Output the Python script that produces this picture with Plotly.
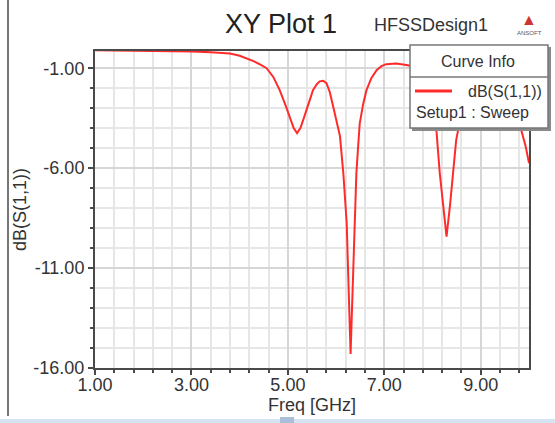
import plotly.graph_objects as go

# ---- data ----
freq_ghz = [1.00, 1.50, 2.00, 2.50, 3.00, 3.40, 3.80, 4.00, 4.15, 4.30, 4.45, 4.56,
            4.70, 4.83, 4.95, 5.04, 5.12, 5.19, 5.26, 5.33, 5.39, 5.46, 5.52, 5.60,
            5.66, 5.73, 5.80, 5.87, 5.94, 6.01, 6.08, 6.15, 6.22, 6.25, 6.28, 6.30,
            6.32, 6.35, 6.39, 6.42, 6.46, 6.49, 6.56, 6.63, 6.73, 6.84, 6.94, 7.04,
            7.25, 7.49, 7.70, 7.85, 7.97, 8.08, 8.15, 8.25, 8.29, 8.36, 8.43, 8.49,
            8.53, 8.62, 8.80, 9.05, 9.30, 9.55, 9.72, 9.84, 9.93, 10.00]
s11_db = [-0.10, -0.11, -0.12, -0.14, -0.16, -0.20, -0.27, -0.38, -0.50, -0.66, -0.85, -1.00,
          -1.45, -2.10, -2.85, -3.45, -4.00, -4.25, -4.00, -3.50, -3.10, -2.55, -2.10, -1.80,
          -1.66, -1.63, -1.75, -2.20, -2.93, -3.70, -4.40, -6.27, -8.77, -11.27, -13.77, -15.30,
          -13.77, -11.27, -8.77, -6.27, -4.80, -3.77, -2.80, -2.10, -1.50, -1.10, -0.90, -0.80,
          -0.77, -0.85, -1.00, -1.50, -2.50, -4.10, -6.27, -8.40, -9.43, -7.90, -6.27, -4.60,
          -4.10, -2.80, -1.80, -1.45, -1.60, -2.30, -3.20, -4.10, -4.90, -5.75]

x_tick_vals = [1, 3, 5, 7, 9]
x_tick_text = ["1.00", "3.00", "5.00", "7.00", "9.00"]
y_tick_vals = [-1, -6, -11, -16]
y_tick_text = ["-1.00", "-6.00", "-11.00", "-16.00"]

# ---- layout helpers (pixel -> paper) ----
L, R, T, B = 95, 529, 51, 368
def PX(p):
    return (p - L) / (R - L)
def PY(p):
    return (B - p) / (B - T)

FONT = "Liberation Sans, Arial, sans-serif"
TXT = "#333333"

fig = go.Figure(go.Scatter(x=freq_ghz, y=s11_db, mode="lines",
                           line=dict(color="#ff2b2b", width=2), showlegend=False,
                           name="dB(S(1,1))"))

axis_common = dict(
    showline=True, linecolor="#4a4a4a", linewidth=2, mirror=True,
    ticks="outside", ticklen=5, tickcolor="#4a4a4a", tickwidth=1.5,
    showgrid=True, gridcolor="#d6d6d6", gridwidth=2, zeroline=False,
    tickfont=dict(size=18, color=TXT, family=FONT), automargin=False,
)

fig.update_xaxes(range=[1, 10], tickmode="array", tickvals=x_tick_vals, ticktext=x_tick_text,
                 minor=dict(tick0=1, dtick=0.4, showgrid=True, gridcolor="#e6e6e6", gridwidth=1.5,
                            ticks="outside", ticklen=3, tickcolor="#4a4a4a"),
                 ticklabelstandoff=-6,
                 title=dict(text="Freq [GHz]", font=dict(size=18, color=TXT, family=FONT), standoff=0),
                 **axis_common)
fig.update_yaxes(range=[-16, -0.14], tickmode="array", tickvals=y_tick_vals, ticktext=y_tick_text,
                 minor=dict(tick0=-1, dtick=1, showgrid=True, gridcolor="#e6e6e6", gridwidth=1.5,
                            ticks="outside", ticklen=3, tickcolor="#4a4a4a"),
                 title=dict(text="dB(S(1,1))", font=dict(size=18, color=TXT, family=FONT), standoff=2),
                 **axis_common)

shapes = []
annotations = []

# legend box ("Curve Info") with shadow
shapes.append(dict(type="rect", xref="paper", yref="paper",
                   x0=PX(412), x1=PX(551), y0=PY(47), y1=PY(131),
                   fillcolor="#8a8a8a", line=dict(width=0), layer="above"))
shapes.append(dict(type="rect", xref="paper", yref="paper",
                   x0=PX(410), x1=PX(548), y0=PY(45), y1=PY(128),
                   fillcolor="white", line=dict(color="#777777", width=1.5), layer="above"))
shapes.append(dict(type="line", xref="paper", yref="paper",
                   x0=PX(410), x1=PX(548), y0=PY(77), y1=PY(77),
                   line=dict(color="#777777", width=1.5), layer="above"))
shapes.append(dict(type="line", xref="paper", yref="paper",
                   x0=PX(415), x1=PX(452), y0=PY(91), y1=PY(91),
                   line=dict(color="#ff2b2b", width=3), layer="above"))
annotations += [
    dict(text="Curve Info", x=PX(478), y=PY(61), xref="paper", yref="paper", showarrow=False,
         xanchor="center", yanchor="middle", font=dict(size=16, color=TXT, family=FONT)),
    dict(text="dB(S(1,1))", x=PX(544), y=PY(91), xref="paper", yref="paper", showarrow=False,
         xanchor="right", yanchor="middle", font=dict(size=16, color=TXT, family=FONT)),
    dict(text="Setup1 : Sweep", x=PX(414), y=PY(112), xref="paper", yref="paper", showarrow=False,
         xanchor="left", yanchor="middle", font=dict(size=16, color=TXT, family=FONT)),
    dict(text="HFSSDesign1", x=PX(431), y=PY(25), xref="paper", yref="paper", showarrow=False,
         xanchor="center", yanchor="middle", font=dict(size=18, color=TXT, family=FONT)),
    dict(text="▲", x=PX(529), y=PY(20), xref="paper", yref="paper", showarrow=False,
         xanchor="center", yanchor="middle", font=dict(size=16, color="#cc3333", family=FONT)),
    dict(text="ANSOFT", x=PX(529), y=PY(33), xref="paper", yref="paper", showarrow=False,
         xanchor="center", yanchor="middle", font=dict(size=6, color="#555555", family=FONT)),
]

# window chrome
shapes.append(dict(type="line", xref="paper", yref="paper",
                   x0=PX(8), x1=PX(8), y0=PY(0), y1=PY(416),
                   line=dict(color="#777777", width=2), layer="above"))
shapes.append(dict(type="rect", xref="paper", yref="paper",
                   x0=PX(0), x1=PX(555), y0=PY(419), y1=PY(424),
                   fillcolor="#d6e4f2", line=dict(width=0), layer="above"))
shapes.append(dict(type="rect", xref="paper", yref="paper",
                   x0=PX(280), x1=PX(294), y0=PY(417), y1=PY(424),
                   fillcolor="#a9bfd9", line=dict(width=0), layer="above"))

fig.update_layout(
    width=555, height=423,
    margin=dict(l=L, r=555 - R, t=T, b=423 - B, autoexpand=False),
    paper_bgcolor="white", plot_bgcolor="white",
    font=dict(family=FONT, color=TXT),
    title=dict(text="XY Plot 1", x=281 / 555, xanchor="center", y=1 - 24 / 423, yanchor="middle",
               xref="container", yref="container",
               font=dict(size=27, color="#222222", family=FONT)),
    shapes=shapes, annotations=annotations,
)

fig.write_html("out.html", config={"displayModeBar": False},
               post_script="document.body.style.margin='0';document.body.style.overflow='hidden';")
